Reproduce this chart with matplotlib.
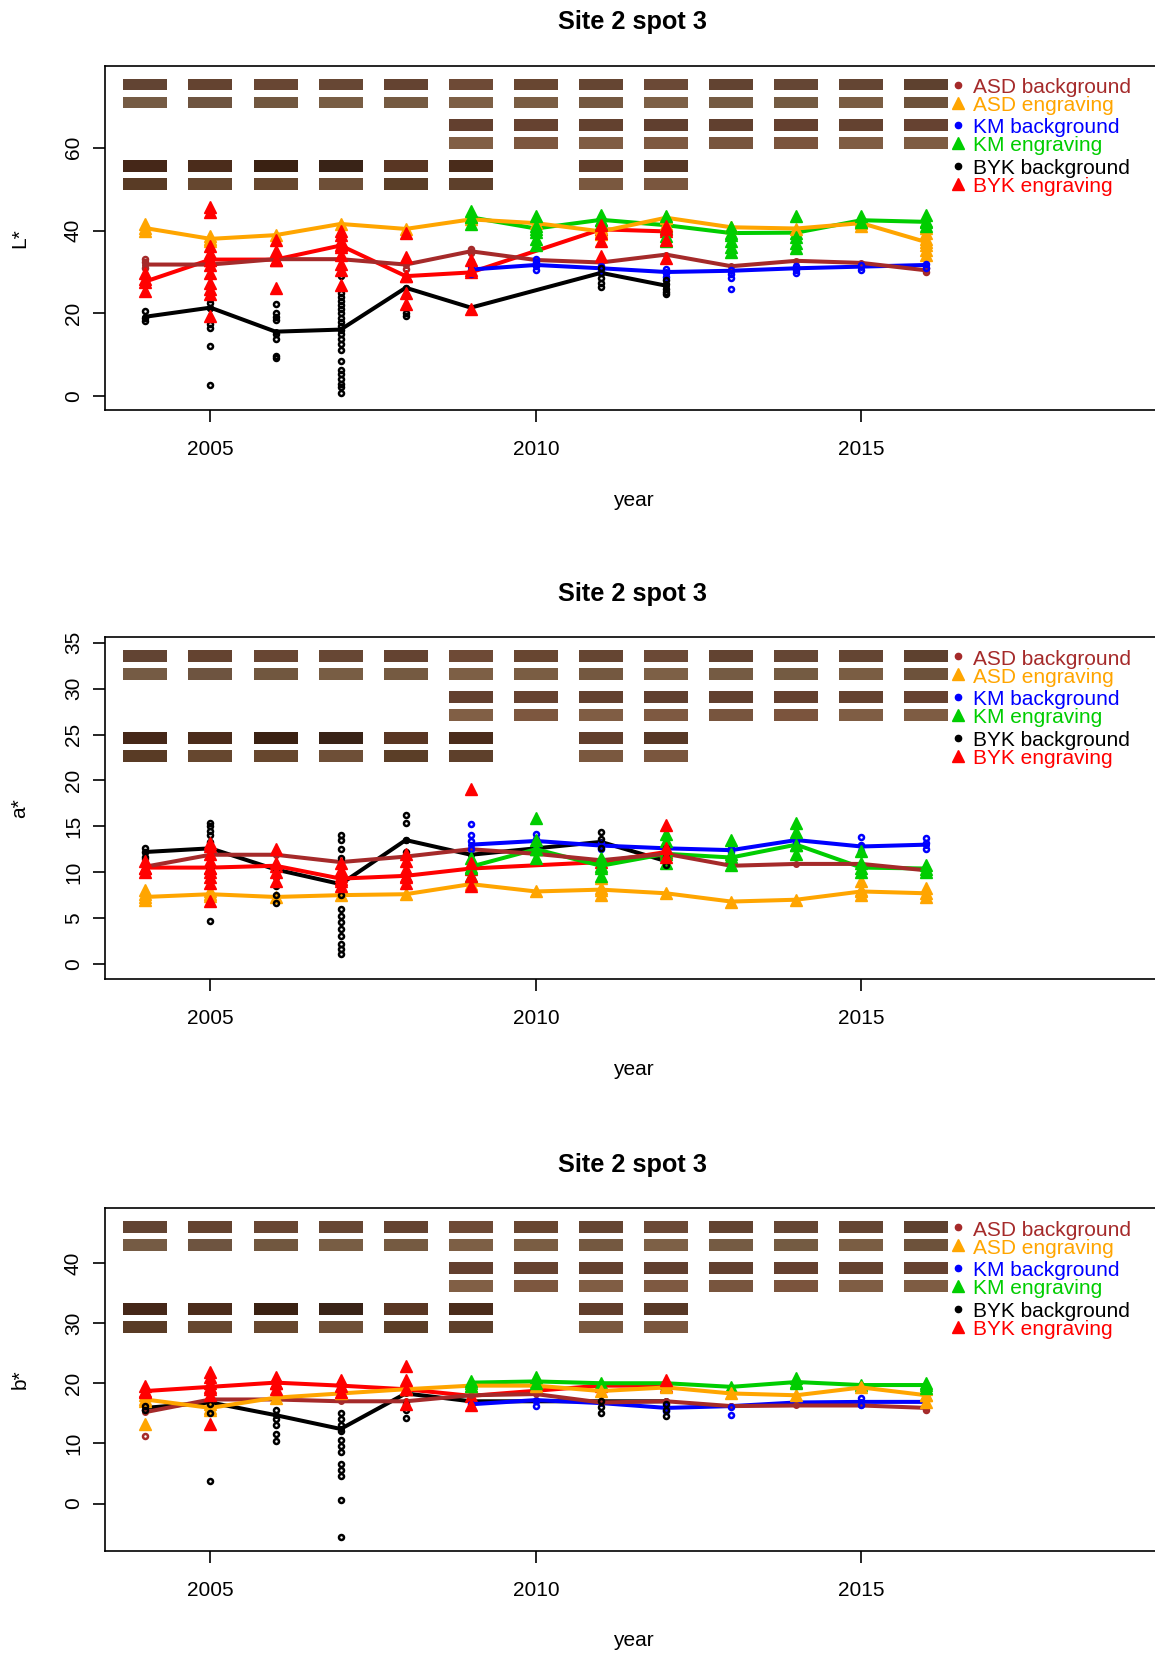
"""Site 2 spot 3: L*, a*, b* per year for three instruments, with colour swatches."""

import matplotlib

matplotlib.use("Agg")
import matplotlib.pyplot as plt
import matplotlib.transforms as mtransforms
from matplotlib.patches import Rectangle
import numpy as np

plt.rcParams["font.family"] = ["Liberation Sans", "DejaVu Sans"]

YEARS_ASD = list(range(2004, 2017))
YEARS_KM = list(range(2009, 2017))
YEARS_BYK = [2004, 2005, 2006, 2007, 2008, 2009, 2011, 2012]

# yearly means (the lines)
L_ASD_BG = [31.8, 31.8, 33.1, 33.1, 31.8, 35.0, 32.9, 32.3, 34.2, 31.4, 32.7, 32.2, 30.4]
L_ASD_ENG = [40.6, 38.0, 38.9, 41.6, 40.4, 42.7, 41.8, 39.8, 43.1, 40.8, 40.5, 41.8, 37.2]
L_KM_BG = [30.6, 31.7, 30.9, 30.0, 30.3, 30.9, 31.3, 31.7]
L_KM_ENG = [43.2, 40.5, 42.6, 41.3, 39.4, 39.5, 42.5, 42.1]
L_BYK_BG = [19.2, 21.4, 15.6, 16.1, 26.2, 21.4, 29.8, 26.7]
L_BYK_ENG = [27.7, 33.0, 33.0, 36.4, 29.0, 29.9, 40.3, 39.8]

A_ASD_BG = [10.6, 11.9, 11.9, 11.1, 11.7, 12.5, 12.0, 11.3, 12.0, 10.7, 10.9, 10.9, 10.2]
A_ASD_ENG = [7.3, 7.6, 7.3, 7.5, 7.6, 8.7, 7.9, 8.1, 7.7, 6.8, 7.0, 7.9, 7.7]
A_KM_BG = [13.0, 13.4, 12.9, 12.6, 12.4, 13.5, 12.8, 13.0]
A_KM_ENG = [10.6, 12.5, 10.7, 12.0, 11.6, 13.0, 10.5, 10.4]
A_BYK_BG = [12.2, 12.6, 10.3, 8.7, 13.5, 11.9, 13.3, 11.2]
A_BYK_ENG = [10.5, 10.5, 10.7, 9.3, 9.6, 10.4, 11.1, 12.2]

B_ASD_BG = [15.2, 17.3, 17.3, 17.0, 17.0, 18.0, 18.2, 16.8, 17.0, 16.2, 16.3, 16.3, 15.9]
B_ASD_ENG = [17.3, 15.9, 17.6, 18.3, 19.0, 19.6, 19.6, 18.7, 19.3, 18.3, 18.0, 19.3, 18.0]
B_KM_BG = [16.5, 17.2, 16.7, 15.9, 16.2, 16.8, 16.9, 16.9]
B_KM_ENG = [20.1, 20.3, 20.0, 20.0, 19.4, 20.2, 19.7, 19.7]
B_BYK_BG = [15.9, 16.8, 14.7, 12.4, 18.3, 17.0, 17.0, 17.0]
B_BYK_ENG = [18.7, 19.4, 20.1, 19.6, 19.0, 17.9, 19.6, 19.6]

# single measurements (the scatter), year -> values
L_ASD_BG_PTS = {2004: [31.0, 32.5, 33.2], 2005: [31.3, 32.2], 2008: [30.8, 32.8],
                2009: [34.5, 35.5], 2016: [29.9, 31.0]}
L_ASD_ENG_PTS = {2004: [40.0, 41.5], 2005: [37.6, 38.6], 2011: [39.2, 40.6], 2012: [41.6, 43.2],
                 2015: [41.0, 42.3], 2016: [34.0, 35.3, 36.4, 38.0, 39.4, 40.6]}
L_KM_BG_PTS = {2009: [29.6, 30.4, 31.4, 32.6], 2010: [30.4, 31.4, 32.4, 33.2], 2011: [30.2, 31.4],
               2012: [28.9, 29.8, 30.8], 2013: [26.0, 28.6, 29.6, 30.6], 2014: [29.8, 30.6, 31.4],
               2015: [30.4, 31.6], 2016: [30.9, 32.0]}
L_KM_ENG_PTS = {2009: [41.6, 43.2, 44.8], 2010: [36.6, 38.0, 39.6, 41.2, 43.6], 2011: [41.6, 42.6, 43.8],
                2012: [37.6, 38.6, 40.6, 43.6], 2013: [34.8, 36.0, 37.4, 39.0, 40.8],
                2014: [35.8, 37.0, 38.4, 43.4], 2015: [42.0, 43.4], 2016: [41.0, 42.4, 43.8]}
L_BYK_BG_PTS = {2004: [18.2, 19.0, 20.5], 2005: [2.7, 12.2, 16.6, 17.4, 21.4, 22.4, 23.4],
                2006: [9.2, 9.8, 13.8, 15.0, 18.4, 19.2, 20.2, 22.2],
                2007: [0.9, 2.2, 3.0, 4.2, 5.4, 6.4, 8.6, 11.2, 12.6, 13.8, 15.0, 16.0, 17.0, 18.0,
                       19.0, 20.0, 21.0, 22.0, 23.0, 24.0, 25.0, 29.0],
                2008: [19.4, 20.2, 21.8, 26.2], 2011: [26.4, 27.4, 28.6, 29.8, 31.0],
                2012: [24.6, 25.2, 26.0, 27.0, 28.0]}
L_BYK_ENG_PTS = {2004: [25.4, 28.4, 29.8],
                 2005: [19.4, 24.6, 25.8, 27.4, 29.8, 31.8, 33.0, 34.6, 36.2, 44.6, 45.8],
                 2006: [26.2, 33.0, 35.0, 37.8], 2007: [26.8, 30.6, 32.0, 34.0, 36.0, 37.6, 39.0, 39.8],
                 2008: [22.2, 25.0, 29.0, 33.6, 39.4], 2009: [21.0, 30.4, 32.8],
                 2011: [33.8, 37.4, 39.4, 41.4], 2012: [33.4, 37.8, 40.4, 41.2]}

A_ASD_BG_PTS = {2004: [10.0, 10.8, 11.4], 2012: [11.4, 12.6], 2016: [9.8, 10.6]}
A_ASD_ENG_PTS = {2004: [7.0, 7.6, 8.1], 2005: [7.4, 7.9], 2011: [7.5, 8.3, 9.4],
                 2015: [7.5, 8.1, 9.0], 2016: [7.3, 8.3]}
A_KM_BG_PTS = {2009: [12.5, 13.4, 14.0, 15.2], 2010: [13.0, 13.6, 14.2], 2011: [12.5, 13.2],
               2012: [12.0, 13.0], 2013: [12.2, 12.6], 2014: [13.2, 13.8], 2015: [12.3, 13.0, 13.8],
               2016: [12.5, 13.2, 13.7]}
A_KM_ENG_PTS = {2009: [9.6, 10.5, 11.5], 2010: [11.5, 12.5, 13.5, 15.9], 2011: [9.6, 10.5, 11.5],
                2012: [11.0, 12.4, 13.4, 14.2], 2013: [10.8, 12.0, 13.5], 2014: [12.0, 13.0, 14.4, 15.4],
                2015: [10.0, 11.0, 12.3], 2016: [10.0, 10.8]}
A_BYK_BG_PTS = {2004: [11.6, 12.2, 12.6], 2005: [4.7, 9.5, 10.5, 11.5, 12.5, 13.3, 14.0, 14.5, 15.0, 15.4],
                2006: [6.6, 7.5, 8.5, 9.5, 10.5],
                2007: [1.1, 1.6, 2.2, 3.0, 3.8, 4.6, 5.2, 6.0, 7.5, 9.0, 10.5, 11.5, 12.5, 13.5, 14.0],
                2008: [12.2, 13.5, 15.4, 16.2], 2011: [12.6, 13.6, 14.4], 2012: [10.8, 11.6, 12.6]}
A_BYK_ENG_PTS = {2004: [10.0, 10.5, 11.2], 2005: [6.9, 8.8, 9.5, 10.0, 10.5, 11.2, 12.0, 12.8, 13.2],
                 2006: [9.0, 10.0, 11.0, 12.5], 2007: [8.5, 9.0, 9.6, 10.2, 11.0],
                 2008: [8.8, 9.5, 10.3, 11.2, 12.0], 2009: [8.5, 9.6, 11.0, 19.1], 2012: [11.6, 12.6, 15.1]}

B_ASD_BG_PTS = {2004: [11.2, 15.5], 2016: [15.5, 16.2]}
B_ASD_ENG_PTS = {2004: [13.2, 17.0, 18.0], 2005: [15.5, 16.5], 2016: [16.8, 18.0, 19.0]}
B_KM_BG_PTS = {2009: [16.0, 16.6], 2010: [16.2, 17.0], 2012: [15.4, 16.2], 2013: [14.8, 16.0],
               2015: [16.4, 17.6]}
B_KM_ENG_PTS = {2009: [19.6, 20.4], 2010: [20.0, 21.0], 2014: [20.0, 20.8], 2016: [19.2, 20.0]}
B_BYK_BG_PTS = {2004: [15.5, 16.2], 2005: [3.7, 15.0, 16.5, 17.5], 2006: [10.4, 11.5, 13.0, 14.0, 15.5],
                2007: [-5.6, 0.6, 4.6, 5.5, 6.5, 8.5, 9.5, 10.5, 12.0, 13.0, 14.0, 15.0],
                2008: [14.2, 15.5, 16.5], 2011: [15.0, 16.0, 17.0], 2012: [14.6, 15.6, 16.6]}
B_BYK_ENG_PTS = {2004: [18.5, 19.5], 2005: [13.2, 18.0, 19.0, 20.0, 21.0, 21.8], 2006: [19.0, 20.0, 21.0],
                 2007: [18.5, 19.5, 20.5], 2008: [16.5, 19.0, 20.5, 22.8], 2009: [16.3], 2012: [20.5]}

LABELS = ["ASD background", "ASD engraving", "KM background", "KM engraving",
          "BYK background", "BYK engraving"]
COLORS = ["#A52A2A", "#FFA500", "#0000FF", "#00CD00", "#000000", "#FF0000"]
YEARS = [YEARS_ASD, YEARS_ASD, YEARS_KM, YEARS_KM, YEARS_BYK, YEARS_BYK]
MEANS = {
    "L": [L_ASD_BG, L_ASD_ENG, L_KM_BG, L_KM_ENG, L_BYK_BG, L_BYK_ENG],
    "a": [A_ASD_BG, A_ASD_ENG, A_KM_BG, A_KM_ENG, A_BYK_BG, A_BYK_ENG],
    "b": [B_ASD_BG, B_ASD_ENG, B_KM_BG, B_KM_ENG, B_BYK_BG, B_BYK_ENG],
}
POINTS = {
    "L": [L_ASD_BG_PTS, L_ASD_ENG_PTS, L_KM_BG_PTS, L_KM_ENG_PTS, L_BYK_BG_PTS, L_BYK_ENG_PTS],
    "a": [A_ASD_BG_PTS, A_ASD_ENG_PTS, A_KM_BG_PTS, A_KM_ENG_PTS, A_BYK_BG_PTS, A_BYK_ENG_PTS],
    "b": [B_ASD_BG_PTS, B_ASD_ENG_PTS, B_KM_BG_PTS, B_KM_ENG_PTS, B_BYK_BG_PTS, B_BYK_ENG_PTS],
}

W, H = 1155, 1654
ROW_TOP_PX = [13, 31, 53.5, 71.5, 94.5, 112.5]  # swatch rows, px below the top of the box
ROW_H_PX = 11.7


def lab_to_rgb(L, a, b):
    """CIE L*a*b* (D65) -> sRGB in 0..1."""
    fy = (L + 16) / 116
    f = np.array([fy + a / 500, fy, fy - b / 200])
    t = np.where(f > 6 / 29, f ** 3, 3 * (6 / 29) ** 2 * (f - 4 / 29))
    xyz = t * np.array([0.95047, 1.0, 1.08883])
    m = np.array([[3.2406, -1.5372, -0.4986],
                  [-0.9689, 1.8758, 0.0415],
                  [0.0557, -0.2040, 1.0570]])
    lin = np.clip(m @ xyz, 0, 1)
    rgb = np.where(lin <= 0.0031308, 12.92 * lin, 1.055 * lin ** (1 / 2.4) - 0.055)
    return tuple(np.clip(rgb, 0, 1))


def draw_panel(ax, key, ylabel, ylim, yticks):
    pos = ax.get_position()
    hpx, wpx = pos.height * H, pos.width * W
    blend = mtransforms.blended_transform_factory(ax.transData, ax.transAxes)
    ax.set_xlim(2003.38, 2019.6)
    ax.set_ylim(*ylim)

    # colour swatches from the yearly Lab means
    for i in range(6):
        top = 1 - ROW_TOP_PX[i] / hpx
        for j, yr in enumerate(YEARS[i]):
            col = lab_to_rgb(MEANS["L"][i][j], MEANS["a"][i][j], MEANS["b"][i][j])
            ax.add_patch(Rectangle((yr - 0.338, top - ROW_H_PX / hpx), 0.676, ROW_H_PX / hpx,
                                   transform=blend, facecolor=col, edgecolor="none", zorder=1))

    for i in [4, 5, 2, 3, 0, 1]:
        bg = i % 2 == 0
        ax.plot(YEARS[i], MEANS[key][i], color=COLORS[i], lw=2.9, zorder=3,
                marker="o" if bg else "^", ms=4 if bg else 8, mfc=COLORS[i], mec=COLORS[i])
    for i in range(6):
        bg = i % 2 == 0
        xs = [yr for yr, vals in POINTS[key][i].items() for _ in vals]
        ys = [v for vals in POINTS[key][i].values() for v in vals]
        if bg:
            ax.plot(xs, ys, ls="none", marker="o", ms=3.6, mfc="none", mec=COLORS[i], mew=1.8, zorder=4)
        else:
            ax.plot(xs, ys, ls="none", marker="^", ms=8, color=COLORS[i], zorder=4)

    # legend, one row per swatch row
    for i in range(6):
        yc = ROW_TOP_PX[i] + ROW_H_PX / 2
        bg = i % 2 == 0
        ax.plot([2016.48], [1 - yc / hpx], transform=blend, clip_on=False, ls="none",
                marker="o" if bg else "^", ms=4.5 if bg else 9, color=COLORS[i], zorder=5)
        ax.text(2016.71, 1 - (yc + 8.4) / hpx, LABELS[i], transform=blend, color=COLORS[i],
                fontsize=15, va="baseline", ha="left")

    ax.set_xticks([2005, 2010, 2015])
    ax.set_yticks(yticks)
    ax.tick_params(axis="both", length=8.4, width=1.2, labelsize=15, direction="out")
    ax.tick_params(axis="x", pad=13)
    ax.tick_params(axis="y", pad=7.5, labelrotation=90)
    for lab in ax.get_yticklabels():
        lab.set_va("center")
    for s in ax.spines.values():
        s.set_linewidth(1.2)

    ax.text(0.5, 1 + 36.4 / hpx, "Site 2 spot 3", transform=ax.transAxes, ha="center",
            va="baseline", fontsize=18.3, fontweight="bold")
    ax.text(-85 / wpx, 0.5, ylabel, transform=ax.transAxes, rotation=90, ha="center",
            va="center", fontsize=15)
    ax.text(0.5, -90 / hpx, "year", transform=ax.transAxes, ha="center", va="center", fontsize=15)


fig = plt.figure(figsize=(W / 100, H / 100), dpi=100)
left, width = 105 / W, 1055.8 / W
panels = [
    (65.7, 410.0, "L", "L*", (-3.31, 79.8), [0, 20, 40, 60]),
    (637.3, 979.3, "a", "a*", (-1.67, 35.59), [0, 5, 10, 15, 20, 25, 30, 35]),
    (1208.3, 1551.0, "b", "b*", (-7.88, 49.07), [0, 10, 20, 30, 40]),
]
for top, bottom, key, ylabel, ylim, yticks in panels:
    ax = fig.add_axes([left, 1 - bottom / H, width, (bottom - top) / H])
    draw_panel(ax, key, ylabel, ylim, yticks)

fig.savefig("out.png", dpi=100)
